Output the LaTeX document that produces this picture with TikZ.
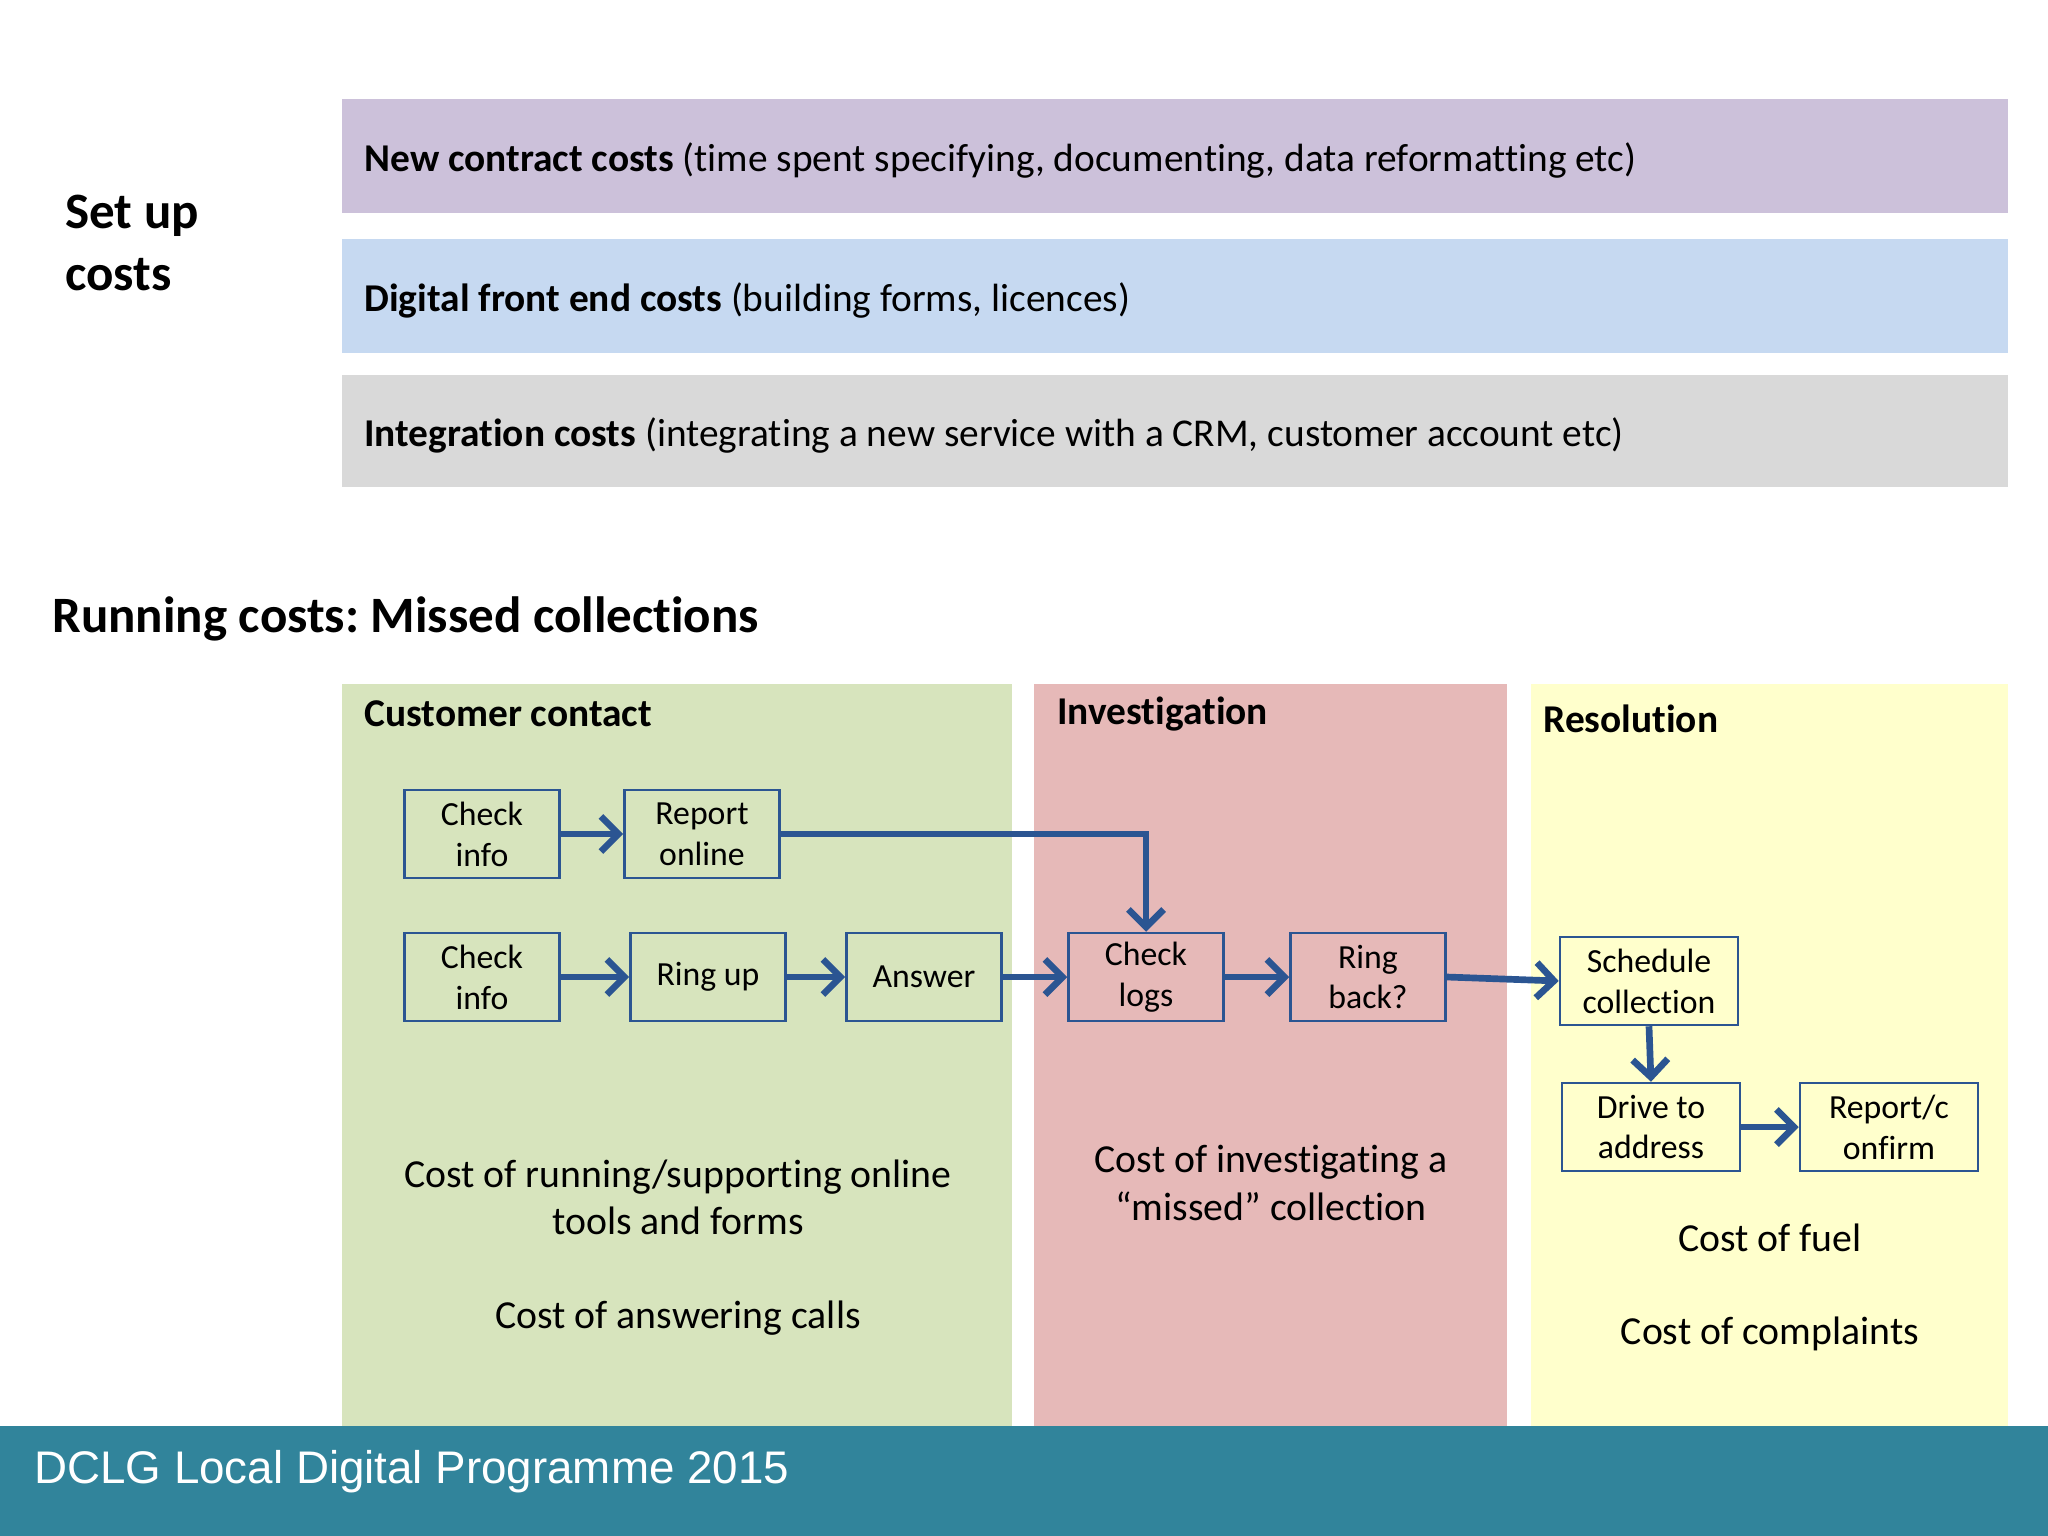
\documentclass[tikz,border=0pt]{standalone}
\usepackage{fontspec}
\setmainfont{Carlito}[Ligatures=NoCommon]
\newfontfamily\footfont{Liberation Sans}
\usepackage{xcolor}
\usepackage{tikz}
\usetikzlibrary{arrows.meta,positioning}
\frenchspacing

\definecolor{setupPurple}{HTML}{CCC1DA}
\definecolor{setupBlue}{HTML}{C6D9F1}
\definecolor{setupGrey}{HTML}{D9D9D9}
\definecolor{contactGreen}{HTML}{D7E4BD}
\definecolor{investRed}{HTML}{E6B9B8}
\definecolor{resolveYellow}{HTML}{FFFFCC}
\definecolor{footTeal}{HTML}{31849B}
\definecolor{flowBlue}{HTML}{2B5592}

\begin{document}
\begin{tikzpicture}[
    x=0.01cm, y=-0.01cm,
    band/.style={fill=#1, draw=none},
    heading/.style={anchor=west, font=\fontsize{14.5}{17.4}\selectfont\bfseries, align=left},
    barlabel/.style={anchor=west, font=\fontsize{11.2}{13.4}\selectfont},
    paneltitle/.style={anchor=west, font=\fontsize{11.2}{13.4}\selectfont\bfseries},
    stepbox/.style={draw=flowBlue, line width=0.7pt, minimum width=1.55cm, minimum height=0.88cm,
        inner sep=0pt, align=center, font=\fontsize{9.6}{11.6}\selectfont},
    widebox/.style={stepbox, minimum width=1.78cm},
    costnote/.style={align=center, font=\fontsize{11.3}{13.4}\selectfont},
    arr/.style={draw=flowBlue, line width=1.9pt, -{Straight Barb[length=5pt,width=10pt,line width=1.9pt]}},
]
\useasboundingbox (0,0) rectangle (2048,1536);

% Set up costs
\node[heading] (setup) at (53,243) {Set up\\costs};
\fill[band=setupPurple] (342,99) rectangle (2008,213);
\node[barlabel] (contract) at (352,160) {\textbf{New contract costs} (time spent specifying, documenting, data reformatting etc)};
\fill[band=setupBlue] (342,239) rectangle (2008,353);
\node[barlabel] (frontend) at (352,300) {\textbf{Digital front end costs} (building forms, licences)};
\fill[band=setupGrey] (342,375) rectangle (2008,487);
\node[barlabel] (integr) at (352,435) {\textbf{Integration costs} (integrating a new service with a CRM, customer account etc)};

% Running costs panels
\node[heading] (running) at (40,619) {Running costs: Missed collections};
\fill[band=contactGreen] (342,684) rectangle (1012,1426);
\fill[band=investRed] (1034,684) rectangle (1507,1426);
\fill[band=resolveYellow] (1531,684) rectangle (2008,1426);
\node[paneltitle] (contact) at (352,714) {Customer contact};
\node[paneltitle] (invest) at (1045,714) {Investigation};
\node[paneltitle] (resolve) at (1531,719) {Resolution};

% Customer contact steps
\node[stepbox] (check1) at (482,834) {Check\\info};
\node[stepbox] (report) at (702,834) {Report\\online};
\node[stepbox] (check2) at (482,977) {Check\\info};
\node[stepbox] (ringup) at (708,977) {Ring up};
\node[stepbox] (answer) at (924,977) {Answer};

% Investigation steps
\node[stepbox] (logs) at (1146,977) {Check\\logs};
\node[stepbox] (ringback) at (1368,977) {Ring\\back?};

% Resolution steps
\node[widebox] (schedule) at (1649,981) {Schedule\\collection};
\node[widebox] (drive) at (1651,1127) {Drive to\\address};
\node[widebox] (confirm) at (1889,1127) {Report/c\\onfirm};

% Flow arrows
\draw[arr] (check1) -- (report);
\draw[arr] (report.east) -| (logs.north);
\draw[arr] (check2) -- (ringup);
\draw[arr] (ringup) -- (answer);
\draw[arr] (answer) -- (logs);
\draw[arr] (logs) -- (ringback);
\draw[arr] (ringback.east) -- (schedule.west);
\draw[arr] (schedule.south) -- (drive.north);
\draw[arr] (drive) -- (confirm);

% Cost notes
\node[costnote] (onlinecost) at (678,1197) {Cost of running/supporting online\\tools and forms};
\node[costnote] (callcost) at (678,1318) {Cost of answering calls};
\node[costnote] (investcost) at (1271,1183) {Cost of investigating a\\“missed” collection};
\node[costnote] (fuelcost) at (1770,1238) {Cost of fuel};
\node[costnote] (complcost) at (1770,1334) {Cost of complaints};

% Footer
\fill[footTeal] (0,1426) rectangle (2048,1536);
\node[anchor=west, text=white, font=\footfont\fontsize{13}{15}\selectfont] (footer) at (22,1472) {DCLG Local Digital Programme 2015};
\end{tikzpicture}
\end{document}
